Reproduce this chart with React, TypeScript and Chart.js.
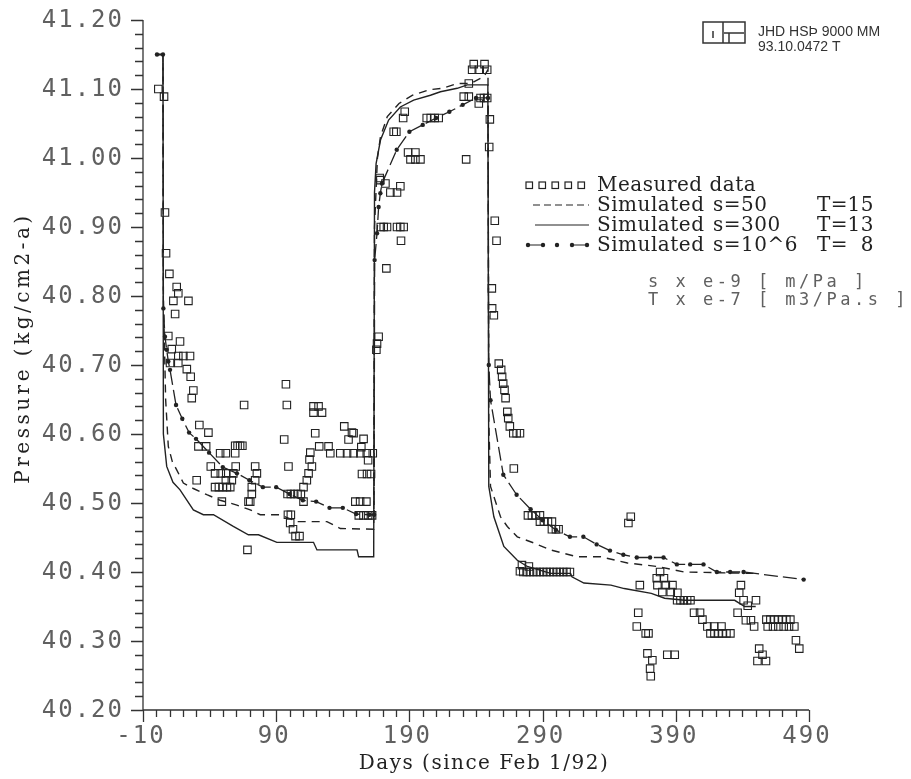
import React, { useEffect, useRef } from 'react';
import { Chart, registerables } from 'chart.js';

Chart.register(...registerables);

// ---------- axes ----------
const xMajorTicks = [-10, 90, 190, 290, 390, 490];
const yMajorTicks = [40.2, 40.3, 40.4, 40.5, 40.6, 40.7, 40.8, 40.9, 41.0, 41.1, 41.2];
const xTitle = 'Days (since Feb 1/92)';
const yTitle = 'Pressure (kg/cm2-a)';

// ---------- legend / notes ----------
const legendNames = ['Measured data', 'Simulated', 'Simulated', 'Simulated'];
const legendS = ['', 's=50', 's=300', 's=10^6'];
const legendT = ['', '15', '13', '8'];
const unitNotes = ['s x e-9 [ m/Pa ]', 'T x e-7 [ m3/Pa.s ]'];
const stampLines = ['JHD HSÞ 9000 MM', '93.10.0472 T'];

// ---------- measured data [day, pressure] ----------
const measuredDrawdown1: [number, number][] = [
  [1.5, 41.1], [5.8, 41.089], [6.5, 40.921], [7.3, 40.862], [9.8, 40.832], [15.3, 40.813], [16.5, 40.804],
  [12.8, 40.793], [24.1, 40.793], [14.1, 40.774], [9.0, 40.742], [17.8, 40.734], [11.6, 40.723], [10.3, 40.703],
  [16.5, 40.713], [20.3, 40.713], [25.3, 40.713], [16.5, 40.703], [22.9, 40.694], [25.8, 40.683], [27.8, 40.663],
  [26.6, 40.652], [32.3, 40.613], [39.1, 40.602], [31.6, 40.582], [37.4, 40.582], [47.9, 40.572], [52.2, 40.572],
  [59.2, 40.572], [59.2, 40.583], [61.0, 40.583], [62.9, 40.583], [64.6, 40.583], [40.9, 40.553], [44.1, 40.543],
  [48.4, 40.543], [52.5, 40.543], [57.8, 40.543], [59.6, 40.553], [74.2, 40.553], [75.5, 40.543], [74.2, 40.533],
  [71.7, 40.523], [71.7, 40.513], [70.5, 40.502], [69.2, 40.502], [49.2, 40.502], [30.3, 40.533], [44.1, 40.523],
  [47.0, 40.523], [50.0, 40.523], [53.0, 40.523], [55.5, 40.523], [52.2, 40.533], [56.7, 40.533], [68.4, 40.432],
  [65.9, 40.642], [97.3, 40.672], [98.0, 40.642], [96.0, 40.592], [99.2, 40.553], [98.8, 40.483], [101.0, 40.483],
  [100.5, 40.471], [102.6, 40.462], [104.5, 40.452], [107.5, 40.452], [98.5, 40.513], [101.0, 40.513],
  [103.5, 40.513], [106.0, 40.513], [108.5, 40.513], [110.5, 40.502], [110.5, 40.523], [113.0, 40.533],
  [114.3, 40.543], [116.8, 40.553], [115.0, 40.563], [115.6, 40.573], [122.3, 40.582], [119.3, 40.601],
  [118.0, 40.631], [124.4, 40.631], [118.0, 40.64], [121.8, 40.64], [141.1, 40.611], [146.9, 40.602],
  [155.6, 40.593], [144.3, 40.592], [129.3, 40.582], [130.6, 40.572], [138.1, 40.572], [143.2, 40.572],
  [148.1, 40.572], [153.2, 40.572], [158.0, 40.572], [162.5, 40.572], [153.9, 40.581], [148.1, 40.601],
  [159.0, 40.562], [154.4, 40.542], [158.2, 40.542], [161.2, 40.542], [149.4, 40.502], [153.0, 40.502],
  [157.7, 40.502], [152.0, 40.482], [155.5, 40.482], [159.0, 40.482], [162.0, 40.482],
];

const measuredRecovery: [number, number][] = [
  [165.2, 40.722], [165.7, 40.731], [166.9, 40.741], [167.7, 40.971], [168.2, 40.968], [172.0, 40.963],
  [175.7, 40.95], [180.7, 40.95], [183.2, 40.959], [168.5, 40.9], [170.7, 40.9], [173.2, 40.9], [180.7, 40.9],
  [183.2, 40.9], [185.7, 40.9], [183.7, 40.88], [172.7, 40.84], [178.2, 41.038], [180.2, 41.038], [185.3, 41.058],
  [186.5, 41.067], [189.0, 41.008], [194.5, 41.008], [190.8, 40.998], [194.5, 40.998], [198.3, 40.998],
  [203.0, 41.058], [206.0, 41.058], [209.0, 41.058], [212.0, 41.058], [232.6, 40.998], [230.8, 41.089],
  [234.6, 41.089], [234.6, 41.108], [237.1, 41.128], [238.3, 41.136], [242.1, 41.128], [246.4, 41.136],
  [248.4, 41.128], [242.1, 41.079], [243.4, 41.087], [246.0, 41.087], [248.4, 41.087], [250.4, 41.056],
  [249.9, 41.016],
];

const measuredDrawdown2: [number, number][] = [
  [254.1, 40.909], [255.4, 40.88], [251.9, 40.811], [252.1, 40.782], [253.4, 40.772], [257.1, 40.702],
  [258.9, 40.693], [259.6, 40.683], [260.4, 40.673], [261.4, 40.664], [262.2, 40.652], [263.5, 40.632],
  [264.2, 40.623], [265.4, 40.611], [268.0, 40.601], [270.5, 40.601], [273.0, 40.601], [268.4, 40.55],
  [274.5, 40.41], [279.7, 40.408], [273.0, 40.401], [275.5, 40.4], [278.0, 40.4], [280.5, 40.4], [283.0, 40.4],
  [285.5, 40.4], [288.0, 40.4], [290.5, 40.4], [293.0, 40.4], [295.5, 40.4], [298.0, 40.4], [300.5, 40.4],
  [303.0, 40.4], [305.5, 40.4], [308.0, 40.4], [310.5, 40.4], [279.0, 40.482], [282.0, 40.482], [285.0, 40.482],
  [288.0, 40.482], [288.0, 40.473], [291.0, 40.473], [294.0, 40.473], [297.0, 40.473], [297.0, 40.462],
  [300.0, 40.462], [302.0, 40.462], [356.2, 40.48], [354.4, 40.471], [363.0, 40.381], [361.8, 40.341],
  [360.7, 40.321], [367.4, 40.311], [369.5, 40.311], [368.7, 40.282], [372.4, 40.272], [370.7, 40.26],
  [371.2, 40.249], [383.6, 40.28], [389.2, 40.28], [378.2, 40.4], [375.7, 40.391], [381.1, 40.391],
  [376.2, 40.381], [382.5, 40.381], [387.5, 40.381], [379.9, 40.371], [386.2, 40.371], [391.2, 40.37],
  [391.0, 40.359], [393.5, 40.359], [396.0, 40.359], [398.5, 40.359], [401.0, 40.359], [403.7, 40.341],
  [408.2, 40.341], [410.0, 40.331], [413.7, 40.321], [418.8, 40.321], [424.3, 40.321], [416.0, 40.311],
  [419.0, 40.311], [422.0, 40.311], [425.0, 40.311], [428.0, 40.311], [431.0, 40.311], [438.9, 40.381],
  [437.6, 40.37], [440.9, 40.359], [444.0, 40.351], [450.2, 40.359], [436.4, 40.341], [442.6, 40.33],
  [446.4, 40.33], [448.8, 40.321], [452.6, 40.289], [455.1, 40.28], [451.3, 40.271], [457.7, 40.271],
  [458.0, 40.331], [461.0, 40.331], [464.0, 40.331], [467.0, 40.331], [470.0, 40.331], [473.0, 40.331],
  [476.0, 40.331], [459.0, 40.321], [463.0, 40.321], [467.0, 40.321], [471.0, 40.321], [475.0, 40.321],
  [479.0, 40.321], [480.2, 40.301], [482.7, 40.289],
];

// ---------- simulated s=50, T=15 (dashed) ----------
const sim50: [number, number][] = [
  [0.5, 41.15], [5, 41.15], [5.3, 40.8], [7, 40.65], [9, 40.582], [12, 40.56], [15.3, 40.548], [20.3, 40.529],
  [27.8, 40.521], [37.9, 40.512], [47.9, 40.504], [60.5, 40.497], [70.5, 40.49], [78, 40.483], [93, 40.483],
  [105.6, 40.473], [128.1, 40.473], [138.1, 40.463], [163.2, 40.462], [163.8, 40.9], [166, 41.0],
  [168.3, 41.031], [173.4, 41.06], [182.2, 41.079], [192.4, 41.091], [205, 41.099], [215, 41.101],
  [226, 41.108], [236, 41.108], [246, 41.118], [249, 41.128], [249.6, 40.62], [250.9, 40.524], [258.4, 40.48],
  [263.5, 40.466], [271, 40.451], [283.5, 40.442], [296, 40.432], [316.1, 40.422], [333.7, 40.422],
  [353.7, 40.413], [376.2, 40.408], [396.2, 40.4], [446.4, 40.398], [450, 40.398],
];

// ---------- simulated s=300, T=13 (solid) ----------
const sim300: [number, number][] = [
  [0.5, 41.15], [5, 41.15], [5.3, 40.6], [7.8, 40.553], [12.5, 40.53], [17.8, 40.519], [22.9, 40.504],
  [27.8, 40.49], [35.3, 40.483], [42.9, 40.483], [57.8, 40.466], [69.1, 40.454], [76.7, 40.454], [90.5, 40.443],
  [118, 40.443], [120.6, 40.432], [150.7, 40.432], [151.9, 40.422], [163.2, 40.422], [163.8, 40.95],
  [165, 40.992], [168.3, 41.026], [174.4, 41.055], [183.2, 41.074], [193.2, 41.084], [205.8, 41.091],
  [213.3, 41.096], [225.9, 41.101], [233.4, 41.106], [248.9, 41.106], [249.6, 40.524], [253.4, 40.48],
  [260.9, 40.437], [271, 40.417], [278.5, 40.408], [296, 40.398], [311, 40.398], [312, 40.393], [321, 40.384],
  [341.3, 40.381], [351.3, 40.376], [371.6, 40.369], [381.6, 40.362], [396.6, 40.359], [434.2, 40.359],
  [441.7, 40.35], [450, 40.35],
];

// ---------- simulated s=10^6, T=8 (dot-dash) ----------
const sim1e6: [number, number][] = [
  [0.5, 41.15], [5, 41.15], [5.3, 40.782], [6.5, 40.741], [7.8, 40.722], [9, 40.705], [10.3, 40.693],
  [14.8, 40.642], [19.5, 40.622], [24.6, 40.602], [29.8, 40.593], [39.6, 40.573], [49.9, 40.552], [60.5, 40.543],
  [69.9, 40.533], [80, 40.523], [90, 40.523], [100, 40.513], [110, 40.504], [120, 40.502], [130, 40.493],
  [140, 40.493], [150, 40.484], [160, 40.483], [163.5, 40.483], [163.9, 40.852], [165.7, 40.891],
  [166.9, 40.929], [168.2, 40.949], [169.4, 40.963], [180.5, 41.012], [190, 41.038], [200, 41.048],
  [210, 41.058], [220, 41.067], [230, 41.077], [240, 41.087], [249, 41.087], [249.6, 40.7], [250.9, 40.649],
  [260.5, 40.541], [270.5, 40.512], [281, 40.491], [290, 40.475], [300, 40.461], [310.5, 40.451],
  [320.6, 40.451], [330.6, 40.44], [340.6, 40.431], [350.6, 40.425], [360.7, 40.421], [370.7, 40.421],
  [380.8, 40.421], [390.8, 40.411], [400.8, 40.411], [410.8, 40.411], [420.8, 40.4], [430.8, 40.4],
  [440.9, 40.4], [486, 40.389],
];

const INK = '#222';
const TICK_INK = '#606060';

const toXY = (arr: [number, number][]) => arr.map(([x, y]) => ({ x, y }));

const decorPlugin = {
  id: 'decor',
  afterDraw(chart: any) {
    const { ctx, chartArea: a } = chart;
    const xs = chart.scales.x;
    const ys = chart.scales.y;
    ctx.save();
    ctx.strokeStyle = '#333';
    ctx.lineWidth = 1.3;
    // axis lines
    ctx.beginPath();
    ctx.moveTo(a.left, a.top);
    ctx.lineTo(a.left, a.bottom);
    ctx.lineTo(a.right, a.bottom);
    ctx.stroke();
    // y ticks (every 0.02)
    ctx.beginPath();
    for (let i = 0; i <= 50; i++) {
      const v = 40.2 + i * 0.02;
      const py = Math.round(ys.getPixelForValue(v)) + 0.5;
      const len = i % 5 === 0 ? 12 : 8;
      ctx.moveTo(a.left - len, py);
      ctx.lineTo(a.left, py);
    }
    // x ticks (every 10 days)
    for (let i = 0; i <= 50; i++) {
      const v = -10 + i * 10;
      const px = Math.round(xs.getPixelForValue(v)) + 0.5;
      const len = i % 10 === 0 ? 12 : 7;
      ctx.moveTo(px, a.bottom);
      ctx.lineTo(px, a.bottom + len);
    }
    ctx.stroke();

    // tick labels
    ctx.fillStyle = TICK_INK;
    ctx.font = '24px "DejaVu Sans Mono"';
    (ctx as any).letterSpacing = '2px';
    ctx.textBaseline = 'middle';
    ctx.textAlign = 'right';
    yMajorTicks.forEach((v) => {
      ctx.fillText(v.toFixed(2), a.left - 19, ys.getPixelForValue(v) + 1);
    });
    ctx.textAlign = 'center';
    xMajorTicks.forEach((v) => {
      ctx.fillText(String(v), xs.getPixelForValue(v) - 2, a.bottom + 27);
    });

    // axis titles
    ctx.fillStyle = INK;
    ctx.font = '20px "DejaVu Serif"';
    (ctx as any).letterSpacing = '1.5px';
    ctx.textAlign = 'center';
    ctx.fillText(xTitle, 484, 764);
    ctx.save();
    ctx.translate(24, 348);
    ctx.rotate(-Math.PI / 2);
    (ctx as any).letterSpacing = '3.5px';
    ctx.fillText(yTitle, 0, 0);
    ctx.restore();

    // legend
    const rows = [185, 205, 225, 245];
    ctx.strokeStyle = INK;
    ctx.lineWidth = 1.2;
    for (let k = 0; k < 5; k++) {
      ctx.strokeRect(526 + k * 13, rows[0] - 3, 6.5, 6.5);
    }
    ctx.save();
    ctx.setLineDash([7, 4]);
    ctx.beginPath();
    ctx.moveTo(533, rows[1]);
    ctx.lineTo(589, rows[1]);
    ctx.stroke();
    ctx.restore();
    ctx.beginPath();
    ctx.moveTo(535, rows[2]);
    ctx.lineTo(589, rows[2]);
    ctx.stroke();
    const dots = [528, 543, 557, 572, 587];
    ctx.beginPath();
    ctx.moveTo(dots[0], rows[3]);
    ctx.lineTo(dots[1], rows[3]);
    ctx.moveTo(dots[3], rows[3]);
    ctx.lineTo(dots[4], rows[3]);
    ctx.stroke();
    ctx.fillStyle = INK;
    dots.forEach((d) => {
      ctx.beginPath();
      ctx.arc(d, rows[3], 2.2, 0, Math.PI * 2);
      ctx.fill();
    });
    ctx.font = '20px "DejaVu Serif"';
    (ctx as any).letterSpacing = '0.5px';
    ctx.textAlign = 'left';
    legendNames.forEach((n, i) => {
      ctx.fillText(n, 597, rows[i] + 1);
      if (legendS[i]) ctx.fillText(legendS[i], 713, rows[i] + 1);
      if (legendT[i]) {
        ctx.textAlign = 'left';
        ctx.fillText('T=', 817, rows[i] + 1);
        ctx.textAlign = 'right';
        ctx.fillText(legendT[i], 874, rows[i] + 1);
        ctx.textAlign = 'left';
      }
    });

    // unit notes
    ctx.fillStyle = TICK_INK;
    ctx.font = '17px "DejaVu Sans Mono"';
    (ctx as any).letterSpacing = '3.5px';
    ctx.fillText(unitNotes[0], 648, 283);
    ctx.fillText(unitNotes[1], 648, 301);

    // stamp
    (ctx as any).letterSpacing = '0px';
    ctx.strokeStyle = '#333';
    ctx.lineWidth = 1.5;
    ctx.strokeRect(703, 22, 42, 21);
    ctx.beginPath();
    ctx.moveTo(723, 22);
    ctx.lineTo(723, 43);
    ctx.moveTo(713, 31);
    ctx.lineTo(713, 38);
    ctx.moveTo(724, 33);
    ctx.lineTo(744, 33);
    ctx.moveTo(729, 33);
    ctx.lineTo(729, 43);
    ctx.stroke();
    ctx.fillStyle = '#333';
    ctx.font = '14px "Liberation Sans"';
    ctx.fillText(stampLines[0], 758, 32);
    ctx.fillText(stampLines[1], 758, 47);
    ctx.restore();
  },
};

export default function App() {
  const ref = useRef<HTMLCanvasElement | null>(null);
  useEffect(() => {
    if (!ref.current) return;
    const squareStyle = {
      showLine: false,
      pointStyle: 'rect',
      pointRadius: 5.3,
      pointBorderWidth: 1.1,
      pointBorderColor: INK,
      pointBackgroundColor: 'rgba(0,0,0,0)',
      borderColor: INK,
      backgroundColor: 'rgba(0,0,0,0)',
    };
    const chart = new Chart(ref.current, {
      type: 'scatter',
      data: {
        datasets: [
          { label: 'Measured data', data: toXY(measuredDrawdown1), ...squareStyle },
          { label: 'Measured data', data: toXY(measuredRecovery), ...squareStyle },
          { label: 'Measured data', data: toXY(measuredDrawdown2), ...squareStyle },
          {
            label: 'Simulated s=50 T=15', data: toXY(sim50), showLine: true, pointRadius: 0,
            borderColor: INK, borderWidth: 1.4, borderDash: [8, 6], tension: 0,
          },
          {
            label: 'Simulated s=300 T=13', data: toXY(sim300), showLine: true, pointRadius: 0,
            borderColor: INK, borderWidth: 1.4, tension: 0,
          },
          {
            label: 'Simulated s=10^6 T=8', data: toXY(sim1e6), showLine: true, pointRadius: 2.2,
            pointBackgroundColor: INK, pointBorderColor: INK, pointBorderWidth: 0,
            borderColor: INK, borderWidth: 1.3, borderDash: [14, 5], tension: 0,
          },
        ] as any,
      },
      options: {
        animation: false,
        responsive: false,
        events: [],
        layout: { padding: { left: 0, right: 102, top: 20, bottom: 0 } },
        plugins: { legend: { display: false }, tooltip: { enabled: false } },
        scales: {
          x: {
            type: 'linear', min: -10, max: 490,
            ticks: { display: false, stepSize: 10 },
            grid: { display: false }, border: { display: false },
            afterFit: (s: any) => { s.height = 69; },
          },
          y: {
            type: 'linear', min: 40.2, max: 41.2,
            ticks: { display: false, stepSize: 0.02 },
            grid: { display: false }, border: { display: false },
            afterFit: (s: any) => { s.width = 143; },
          },
        },
      } as any,
      plugins: [decorPlugin],
    });
    return () => chart.destroy();
  }, []);
  return (
    <div style={{ position: 'absolute', left: 0, top: 0, width: 911, height: 779, background: '#fff' }}>
      <canvas ref={ref} width={911} height={779} style={{ display: 'block' }} />
    </div>
  );
}
